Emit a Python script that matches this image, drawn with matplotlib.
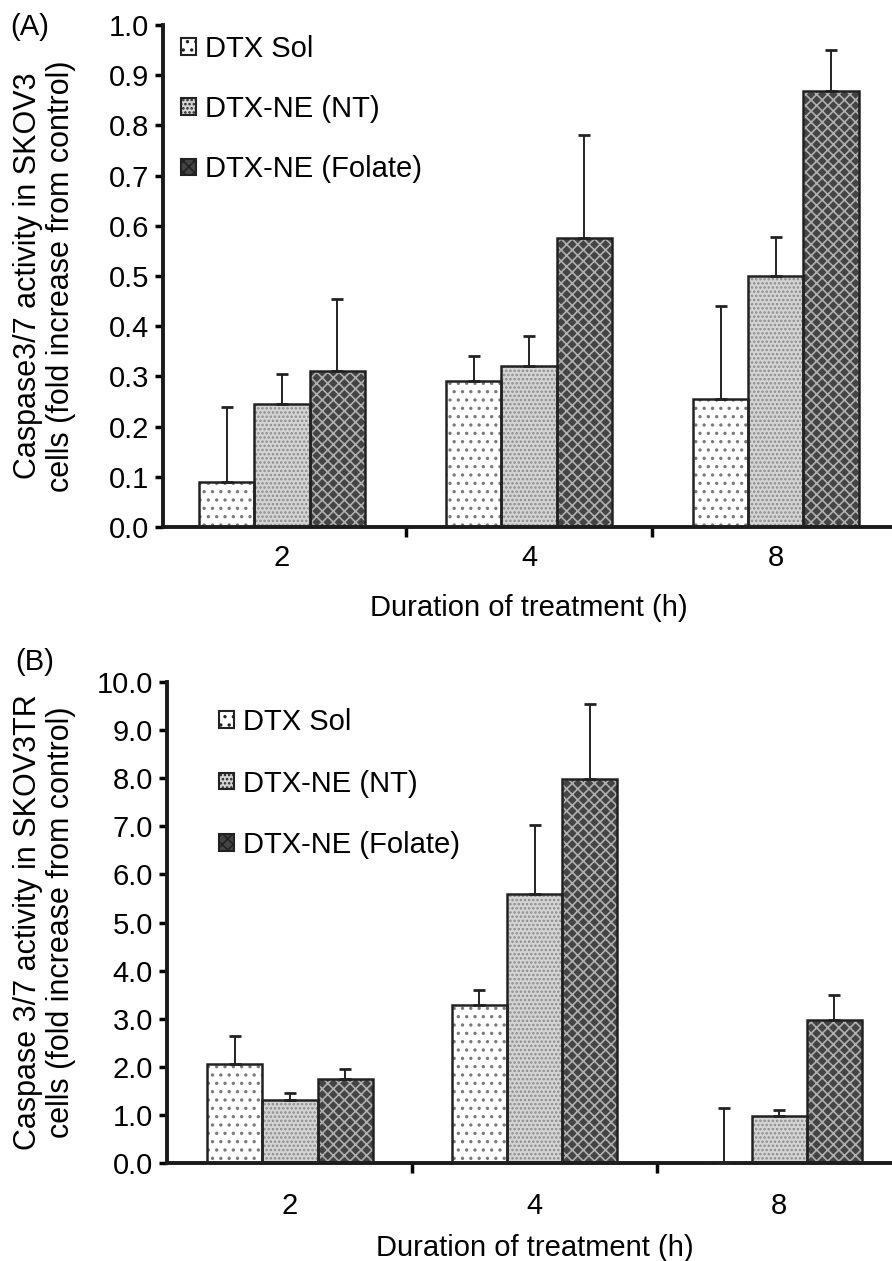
import numpy as np
import matplotlib
matplotlib.use("Agg")
import matplotlib.pyplot as plt
from matplotlib.patches import Patch

plt.rcParams['font.family'] = ['Liberation Sans', 'DejaVu Sans']
plt.rcParams['hatch.linewidth'] = 1.2

W, H = 892, 1261

durations = ['2', '4', '8']
series = ['DTX Sol', 'DTX-NE (NT)', 'DTX-NE (Folate)']

# panel A - SKOV3
a_sol = [0.09, 0.29, 0.255]
a_sol_err = [0.15, 0.05, 0.185]
a_nt = [0.245, 0.32, 0.50]
a_nt_err = [0.06, 0.06, 0.078]
a_fol = [0.31, 0.575, 0.868]
a_fol_err = [0.145, 0.205, 0.082]

# panel B - SKOV3TR
b_sol = [2.05, 3.28, 0.0]
b_sol_err = [0.6, 0.32, 1.15]
b_nt = [1.3, 5.6, 0.97]
b_nt_err = [0.15, 1.42, 0.13]
b_fol = [1.75, 7.98, 2.98]
b_fol_err = [0.2, 1.57, 0.52]

# face colour, hatch colour, hatch
styles = [('white', '#7a7a7a', '..'),
          ('#d4d4d4', '#8c8c8c', '....'),
          ('#444444', '#b0b0b0', 'xxx')]


def px_axes(left, top, bottom):
    # pixel box -> figure fraction
    return [left / W, (H - bottom) / H, 1 - left / W, (bottom - top) / H]


def draw_panel(ax, vals, errs, ylim, yticks, xlim, w, ylabel, xpad):
    x = np.arange(len(durations))
    handles = []
    for i, (v, e) in enumerate(zip(vals, errs)):
        fc, hc, h = styles[i]
        pos = x + (i - 1) * w
        ax.bar(pos, v, w, color=fc, edgecolor=hc, hatch=h, linewidth=0, zorder=2)
        ax.bar(pos, v, w, fill=False, edgecolor='#222222', linewidth=1.8, zorder=3)
        ax.errorbar(pos, v, yerr=[np.zeros(len(e)), e], fmt='none', ecolor='#222222',
                    elinewidth=1.4, capsize=4.5, capthick=2, zorder=4)
        handles.append(Patch(facecolor=fc, edgecolor='#222222', hatch=h, linewidth=1.5))
    ax.set_xlim(*xlim)
    ax.set_ylim(*ylim)
    ax.set_yticks(yticks)
    ax.set_yticklabels(['{:.1f}'.format(t) for t in yticks])
    ax.set_xticks(x)
    ax.set_xticklabels(durations)
    ax.set_xticks([0.5, 1.5], minor=True)
    ax.tick_params(axis='x', which='major', length=0, pad=xpad, labelsize=21)
    ax.tick_params(axis='x', which='minor', length=7, width=2.5, direction='out')
    ax.tick_params(axis='y', length=6, width=2.5, direction='out', labelsize=21, pad=4)
    for s in ['top', 'right']:
        ax.spines[s].set_visible(False)
    for s in ['left', 'bottom']:
        ax.spines[s].set_linewidth(2.8)
        ax.spines[s].set_color('#1a1a1a')
    ax.set_xlabel('Duration of treatment (h)', fontsize=21)
    ax.set_ylabel(ylabel, fontsize=22, linespacing=1.1)
    return handles


fig = plt.figure(figsize=(W / 100, H / 100), dpi=100)

# panel A
axA = fig.add_axes(px_axes(163, 25, 527))
hA = draw_panel(axA, [a_sol, a_nt, a_fol], [a_sol_err, a_nt_err, a_fol_err],
                (0, 1.0), np.round(np.arange(0, 1.01, 0.1), 1), (-0.482, 2.47), 0.223,
                'Caspase3/7 activity in SKOV3\ncells (fold increase from control)', 12.5)
axA.xaxis.set_label_coords(0.502, -0.133)
axA.yaxis.set_label_coords(-0.12, 0.5)
axA.legend(hA, series, loc='upper left', bbox_to_anchor=(0.025, 0.98), frameon=False,
           borderpad=0, borderaxespad=0, fontsize=21, handlelength=0.5, handleheight=0.5,
           handletextpad=0.3, labelspacing=1.1)

# panel B
axB = fig.add_axes(px_axes(167, 682, 1163))
hB = draw_panel(axB, [b_sol, b_nt, b_fol], [b_sol_err, b_nt_err, b_fol_err],
                (0, 10.0), np.arange(0, 10.01, 1.0), (-0.503, 2.462), 0.225,
                'Caspase 3/7 activity in SKOV3TR\ncells (fold increase from control)', 21)
axB.xaxis.set_label_coords(0.507, -0.147)
axB.yaxis.set_label_coords(-0.126, 0.5)
axB.legend(hB, series, loc='upper left', bbox_to_anchor=(0.072, 0.946), frameon=False,
           borderpad=0, borderaxespad=0, fontsize=21, handlelength=0.5, handleheight=0.5,
           handletextpad=0.3, labelspacing=1.15)

fig.text(10 / W, 1 - 27 / H, '(A)', fontsize=21, va='center', ha='left')
fig.text(15 / W, 1 - 662 / H, '(B)', fontsize=21, va='center', ha='left')

fig.savefig('out.png', dpi=100)
